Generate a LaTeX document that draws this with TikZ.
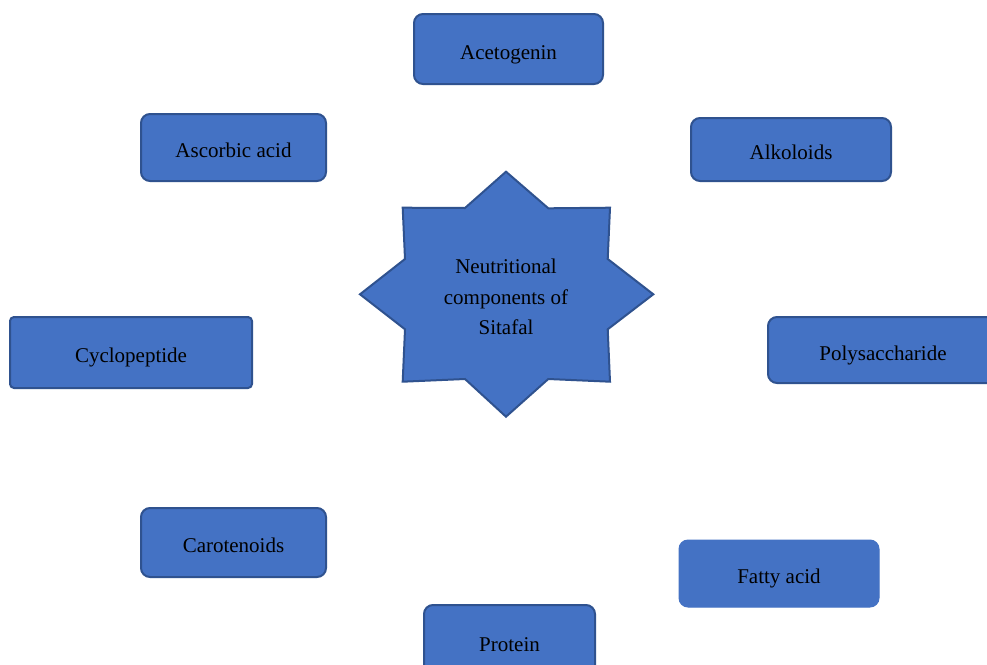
\documentclass[tikz,border=0pt]{standalone}
\usepackage{fontspec}
\setmainfont{Liberation Serif}
\definecolor{boxfill}{HTML}{4472C4}
\definecolor{boxline}{HTML}{2F528F}
\tikzset{
  comp/.style={draw=boxline, line width=2pt, fill=boxfill, rounded corners=9pt,
    inner sep=0pt, text height=20pt, text depth=0pt, align=center, font=\fontsize{21}{25}\selectfont},
  flatcomp/.style={comp, draw=boxfill, line width=1pt},
  starshape/.style={draw=boxline, line width=2pt, fill=boxfill, line join=miter},
  startext/.style={align=center, font=\fontsize{21}{30.5}\selectfont, inner sep=0pt}
}
\begin{document}
\begin{tikzpicture}[x=1pt,y=-1pt]
\useasboundingbox (0,0) rectangle (987,664);
\clip (0,0) rectangle (987,664);
\fill[white] (0,0) rectangle (987,664);
% star
\draw[starshape] (506,171.7) -- (548.3,208.3) -- (610,207.7) -- (607.7,259) -- (653.3,294.3)
  -- (607.7,329.3) -- (610,381.7) -- (548.3,379) -- (506,416.7) -- (465,379)
  -- (402.7,381.7) -- (405,329.3) -- (360,294.3) -- (405,259) -- (402.7,207.7)
  -- (465,208) -- cycle;
\node[startext] (center) at (506,297) {Neutritional\\components of\\Sitafal};
% boxes
\node[comp, minimum width=189pt, minimum height=70pt] (aceto) at (508.5,49) {Acetogenin};
\node[comp, minimum width=185pt, minimum height=67pt] (ascorbic) at (233.5,147.5) {Ascorbic acid};
\node[comp, minimum width=200pt, minimum height=63pt] (alko) at (791,149.5) {Alkoloids};
\node[comp, rounded corners=4pt, minimum width=242pt, minimum height=71pt] (cyclo) at (131,352.5) {Cyclopeptide};
\node[comp, minimum width=230pt, minimum height=66pt] (poly) at (883,350) {Polysaccharide};
\node[comp, minimum width=185pt, minimum height=69pt] (caro) at (233.5,542.5) {Carotenoids};
\node[flatcomp, minimum width=200pt, minimum height=67pt] (fatty) at (779,573.5) {Fatty acid};
\node[comp, minimum width=171pt, minimum height=72pt] (protein) at (509.5,641) {Protein};
\end{tikzpicture}
\end{document}
